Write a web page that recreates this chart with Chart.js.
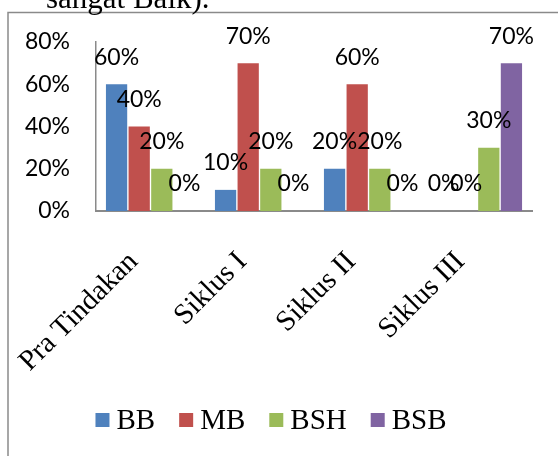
<!DOCTYPE html>
<html>
<head>
<meta charset="utf-8">
<script src="https://cdn.jsdelivr.net/npm/chart.js@4"></script>
<style>
  html, body { margin: 0; padding: 0; background: #fff; }
  #wrap { width: 558px; height: 456px; }
</style>
</head>
<body>
<div id="wrap"><canvas id="chart" width="558" height="456"></canvas></div>
<script>
// ── Data ──
const categories = ["Pra Tindakan", "Siklus I", "Siklus II", "Siklus III"];
const bb  = [60, 10, 20, 0];
const mb  = [40, 70, 60, 0];
const bsh = [20, 20, 20, 30];
const bsb = [0, 0, 0, 70];
const yTicks = [0, 20, 40, 60, 80];

const SANS  = "Lato, 'Open Sans', sans-serif";
const SERIF = "'Liberation Serif', 'DejaVu Serif', serif";

// ── Frame + clipped caption above the chart ──
const framePlugin = {
  id: "frame",
  beforeDraw(chart) {
    const ctx = chart.ctx;
    ctx.save();
    ctx.fillStyle = "#fff";
    ctx.fillRect(0, 0, chart.width, chart.height);
    ctx.strokeStyle = "#8a8a8a";
    ctx.lineWidth = 1.5;
    ctx.beginPath();
    ctx.moveTo(8, chart.height + 5);
    ctx.lineTo(8, 12.5);
    ctx.lineTo(chart.width + 5, 12.5);
    ctx.stroke();
    ctx.fillStyle = "#000";
    ctx.font = "31px " + SERIF;
    ctx.textBaseline = "alphabetic";
    ctx.textAlign = "left";
    ctx.fillText("sangat Baik).", 46, 8);
    ctx.restore();
  }
};

// ── Value labels above each bar ──
const valueLabels = {
  id: "valueLabels",
  afterDatasetsDraw(chart) {
    const ctx = chart.ctx;
    ctx.save();
    ctx.fillStyle = "#000";
    ctx.font = "23px " + SANS;
    ctx.textAlign = "center";
    ctx.textBaseline = "middle";
    chart.data.datasets.forEach((ds, i) => {
      chart.getDatasetMeta(i).data.forEach((bar, j) => {
        ctx.fillText(ds.data[j] + "%", bar.x, bar.y - 27);
      });
    });
    ctx.restore();
  }
};

// ── Legend drawn Excel-style (small box, tight gap to the text) ──
const excelLegend = {
  id: "excelLegend",
  afterDraw(chart) {
    const ctx = chart.ctx;
    const box = 14, gap = 7, spacing = 24, cy = 420, cx = 271;
    ctx.save();
    ctx.font = "29px " + SERIF;
    ctx.textBaseline = "middle";
    ctx.textAlign = "left";
    const items = chart.data.datasets.map(ds => ({
      label: ds.label, color: ds.backgroundColor,
      w: box + gap + ctx.measureText(ds.label).width,
    }));
    const total = items.reduce((s, it) => s + it.w, 0) + spacing * (items.length - 1);
    let x = cx - total / 2;
    items.forEach(it => {
      ctx.fillStyle = it.color;
      ctx.fillRect(x, cy - box / 2, box, box);
      ctx.fillStyle = "#000";
      ctx.fillText(it.label, x + box + gap, cy + 1);
      x += it.w + spacing;
    });
    ctx.restore();
  }
};

new Chart(document.getElementById("chart"), {
  type: "bar",
  data: {
    labels: categories,
    datasets: [
      { label: "BB",  data: bb,  backgroundColor: "#4F81BD" },
      { label: "MB",  data: mb,  backgroundColor: "#C0504D" },
      { label: "BSH", data: bsh, backgroundColor: "#9BBB59" },
      { label: "BSB", data: bsb, backgroundColor: "#8064A2" },
    ],
  },
  options: {
    responsive: false,
    animation: false,
    categoryPercentage: 0.83,
    barPercentage: 0.94,
    layout: { padding: { top: 42, right: 26, bottom: 0, left: 0 } },
    plugins: {
      tooltip: { enabled: false },
      legend: { display: false },
    },
    scales: {
      x: {
        grid: { display: false, drawTicks: false },
        border: { display: true, color: "#8a8a8a", width: 2 },
        ticks: {
          color: "#000",
          font: { family: SERIF, size: 29 },
          maxRotation: 45,
          minRotation: 45,
          padding: 34,
          labelOffset: -17,
        },
        afterFit(scale) {
          scale.height = 245;
          scale.paddingLeft = 0;
          scale.paddingRight = 0;
        },
      },
      y: {
        min: 0,
        max: 80,
        grid: { display: false, drawTicks: false },
        border: { display: true, color: "#8a8a8a", width: 1.5 },
        afterBuildTicks(scale) { scale.ticks = yTicks.map(v => ({ value: v })); },
        ticks: {
          color: "#000",
          font: { family: SANS, size: 23 },
          padding: 26,
          callback: v => v + "%",
        },
        afterFit(scale) { scale.width = 96; },
      },
    },
  },
  plugins: [framePlugin, valueLabels, excelLegend],
});
</script>
</body>
</html>
